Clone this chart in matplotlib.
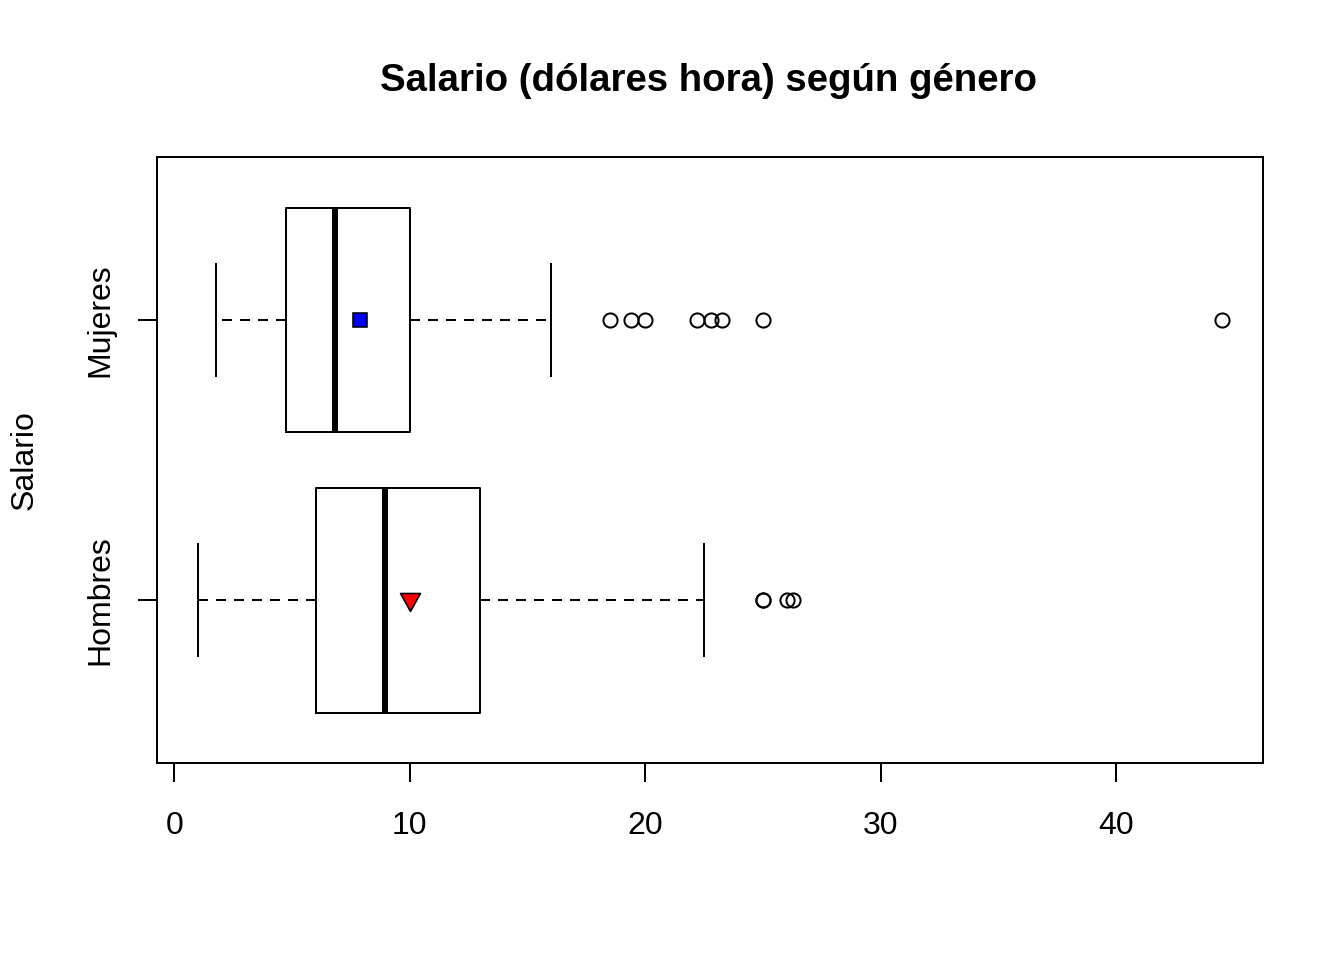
import matplotlib
matplotlib.use("Agg")
import matplotlib.pyplot as plt
from matplotlib.path import Path

plt.rcParams['font.family'] = ['Liberation Sans', 'DejaVu Sans']

categories = ["Hombres", "Mujeres"]
whislo = [1.0, 1.75]
q1 = [6.0, 4.75]
med = [8.93, 6.8]
q3 = [13.0, 10.0]
whishi = [22.5, 16.0]
means = [9.99, 7.88]
fliers = [
    [25.0, 25.0, 26.0, 26.29],
    [18.5, 19.4, 20.0, 22.2, 22.8, 23.25, 25.0, 44.5],
]
title = "Salario (dólares hora) según género"
ylabel = "Salario"
xticks = [0, 10, 20, 30, 40]

fig = plt.figure(figsize=(7, 5), dpi=192)
ax = fig.add_axes([157/1344, 1-763/960, (1263-157)/1344, (763-157)/960])

stats = []
for i in range(len(categories)):
    stats.append(dict(whislo=whislo[i], q1=q1[i], med=med[i], q3=q3[i],
                      whishi=whishi[i], fliers=fliers[i], label=categories[i]))

lw = 0.75
ax.bxp(stats, positions=[1, 2], vert=False, widths=0.8, showfliers=True,
       boxprops=dict(color='black', linewidth=lw),
       medianprops=dict(color='black', linewidth=2.25, solid_capstyle='butt'),
       whiskerprops=dict(color='black', linewidth=lw, linestyle=(0, (5, 4))),
       capprops=dict(color='black', linewidth=lw),
       capwidths=0.4,
       flierprops=dict(marker='o', markerfacecolor='none', markeredgecolor='black',
                       markersize=5.3, markeredgewidth=0.75, linestyle='none'))

tri = Path([(-10, 7), (10, 7), (0, -11), (-10, 7)],
           [Path.MOVETO, Path.LINETO, Path.LINETO, Path.CLOSEPOLY])
ax.plot([means[0]], [1], marker=tri, markersize=8.25, markerfacecolor='#FF0000',
        markeredgecolor='black', markeredgewidth=0.6, linestyle='none', zorder=5)
ax.plot([means[1]], [2], marker='s', markersize=5.0, markerfacecolor='#0000FF',
        markeredgecolor='black', markeredgewidth=0.6, linestyle='none', zorder=5)

ax.set_xlim(-0.74, 46.24)
ax.set_ylim(0.42, 2.58)
ax.set_xticks(xticks)
ax.set_xticklabels([str(t) for t in xticks])
ax.set_yticks([1, 2])
ax.set_yticklabels(categories, rotation=90, va='center')
ax.tick_params(axis='both', direction='out', length=7.1, width=lw, labelsize=12,
               color='black')
ax.tick_params(axis='x', pad=11)
ax.tick_params(axis='y', pad=8.5)
for s in ax.spines.values():
    s.set_linewidth(lw)

fig.text(709/1344, 1-81/960, title, ha='center', va='center', fontsize=14.4,
         fontweight='bold')
fig.text(25/1344, 1-460/960, ylabel, ha='center', va='center', rotation=90,
         fontsize=12)

fig.savefig("out.png", dpi=192)
